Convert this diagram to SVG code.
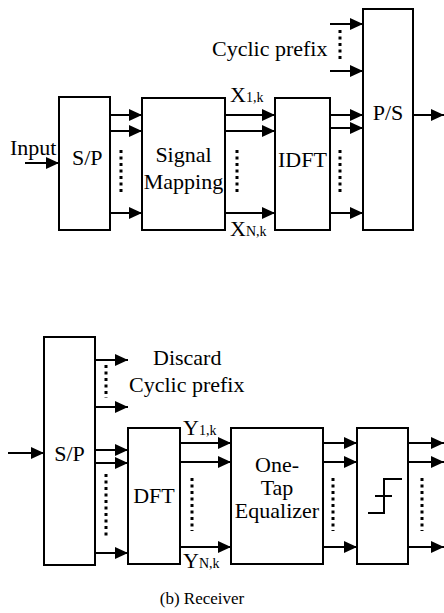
<svg xmlns="http://www.w3.org/2000/svg" width="444" height="613" viewBox="0 0 444 613" font-family="'Liberation Serif', 'Times New Roman', Times, serif">
<defs>
<marker id="ah" markerUnits="userSpaceOnUse" markerWidth="13" markerHeight="12" refX="13" refY="6" orient="auto">
<path d="M0,0 L13,6 L0,12 z" fill="#000"/>
</marker>
<style>
.box{fill:#fff;stroke:#000;stroke-width:2}
.ln{stroke:#000;stroke-width:2;fill:none}
.ar{stroke:#000;stroke-width:2;fill:none;marker-end:url(#ah)}
.dot{stroke:#000;stroke-width:3;stroke-dasharray:3 3.5;fill:none}
.t{font-family:'Liberation Serif','Times New Roman',Times,serif;font-size:22px;fill:#000}
.sub{font-size:14px}
.cap{font-size:17px}
</style>
</defs>
<rect width="444" height="613" fill="#fff"/>

<g id="connectors">
<line class="ar" x1="25" y1="163" x2="59" y2="163"/>
<line class="ar" x1="110" y1="115" x2="142" y2="115"/>
<line class="ar" x1="110" y1="131" x2="142" y2="131"/>
<line class="ar" x1="110" y1="213" x2="142" y2="213"/>
<line class="ar" x1="225" y1="115" x2="275" y2="115"/>
<line class="ar" x1="225" y1="131" x2="275" y2="131"/>
<line class="ar" x1="225" y1="213" x2="275" y2="213"/>
<line class="ar" x1="330" y1="115" x2="363" y2="115"/>
<line class="ar" x1="330" y1="128" x2="363" y2="128"/>
<line class="ar" x1="330" y1="213" x2="363" y2="213"/>
<line class="ar" x1="330" y1="24" x2="363" y2="24"/>
<line class="ar" x1="330" y1="71" x2="363" y2="71"/>
<line class="ar" x1="413" y1="115" x2="444" y2="115"/>
<line class="dot" x1="121" y1="150" x2="121" y2="193"/>
<line class="dot" x1="237" y1="150" x2="237" y2="193"/>
<line class="dot" x1="340" y1="150" x2="340" y2="193"/>
<line class="dot" x1="340" y1="30" x2="340" y2="62"/>
<line class="ar" x1="8" y1="453" x2="44" y2="453"/>
<line class="ar" x1="95" y1="360" x2="128" y2="360"/>
<line class="ar" x1="95" y1="407" x2="128" y2="407"/>
<line class="dot" x1="106" y1="365" x2="106" y2="398"/>
<line class="ar" x1="95" y1="450" x2="128" y2="450"/>
<line class="ar" x1="95" y1="463" x2="128" y2="463"/>
<line class="ar" x1="95" y1="553" x2="128" y2="553"/>
<line class="dot" x1="106" y1="474" x2="106" y2="537"/>
<line class="ar" x1="180" y1="443" x2="231" y2="443"/>
<line class="ar" x1="180" y1="462" x2="231" y2="462"/>
<line class="ar" x1="180" y1="547" x2="231" y2="547"/>
<line class="dot" x1="192" y1="478" x2="192" y2="531"/>
<line class="ar" x1="323" y1="443" x2="357" y2="443"/>
<line class="ar" x1="323" y1="462" x2="357" y2="462"/>
<line class="ar" x1="323" y1="547" x2="357" y2="547"/>
<line class="dot" x1="333" y1="478" x2="333" y2="531"/>
<line class="ar" x1="408" y1="443" x2="444" y2="443"/>
<line class="ar" x1="408" y1="462" x2="444" y2="462"/>
<line class="ar" x1="408" y1="547" x2="444" y2="547"/>
<line class="dot" x1="422" y1="478" x2="422" y2="531"/>
</g>

<g id="tx-sp">
<rect class="box" x="59" y="97" width="51" height="133"/>
<text class="t" x="72" y="165">S/P</text>
</g>
<g id="tx-input-label"><text class="t" x="10" y="155">Input</text></g>
<g id="tx-mapping">
<rect class="box" x="142" y="98" width="83" height="132"/>
<text class="t" x="183.5" y="162" text-anchor="middle">Signal</text>
<text class="t" x="183.5" y="189" text-anchor="middle">Mapping</text>
</g>
<g id="tx-idft">
<rect class="box" x="275" y="98" width="55" height="132"/>
<text class="t" x="302.5" y="167" text-anchor="middle">IDFT</text>
</g>
<g id="tx-ps">
<rect class="box" x="363" y="9" width="50" height="221"/>
<text class="t" x="388" y="120" text-anchor="middle">P/S</text>
</g>
<g id="tx-labels">
<text class="t" x="212" y="56">Cyclic prefix</text>
<text class="t" x="230" y="102">X<tspan class="sub">1,k</tspan></text>
<text class="t" x="230" y="236">X<tspan class="sub">N,k</tspan></text>
</g>

<g id="rx-sp">
<rect class="box" x="44" y="337" width="51" height="228"/>
<text class="t" x="69.5" y="461" text-anchor="middle">S/P</text>
</g>
<g id="rx-dft">
<rect class="box" x="128" y="428" width="52" height="136"/>
<text class="t" x="154" y="503" text-anchor="middle">DFT</text>
</g>
<g id="rx-eq">
<rect class="box" x="231" y="428" width="92" height="136"/>
<text class="t" x="277" y="472" text-anchor="middle">One-</text>
<text class="t" x="277" y="495" text-anchor="middle">Tap</text>
<text class="t" x="277" y="518" text-anchor="middle">Equalizer</text>
</g>
<g id="rx-decision">
<rect class="box" x="357" y="428" width="51" height="136"/>
<path class="ln" d="M368,513 H384 V479 H402 M375,496 H392"/>
</g>
<g id="rx-labels">
<text class="t" x="153" y="365">Discard</text>
<text class="t" x="129" y="392">Cyclic prefix</text>
<text class="t" x="183" y="435">Y<tspan class="sub">1,k</tspan></text>
<text class="t" x="183" y="568">Y<tspan class="sub">N,k</tspan></text>
<text class="t cap" x="202" y="604" text-anchor="middle">(b) Receiver</text>
</g>
</svg>
